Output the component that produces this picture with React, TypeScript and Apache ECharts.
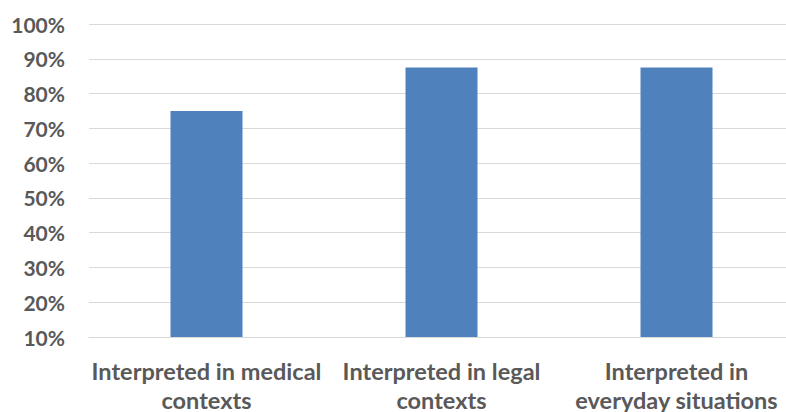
import React, { useEffect, useRef } from "react";
import * as echarts from "echarts";

const categories = [
  "Interpreted in medical\ncontexts",
  "Interpreted in legal\ncontexts",
  "Interpreted in\neveryday situations",
];
const values = [75, 87.5, 87.5];
const yMin = 10;
const yMax = 100;
const yStep = 10;

export default function App() {
  const ref = useRef<HTMLDivElement>(null);
  useEffect(() => {
    if (!ref.current) return;
    const chart = echarts.init(ref.current, null, { renderer: "svg" });
    const font = "Lato, 'Open Sans', sans-serif";
    chart.setOption({
      animation: false,
      backgroundColor: "#ffffff",
      grid: {
        left: 89,
        width: 705,
        top: 24,
        bottom: 75,
        containLabel: false,
        outerBoundsMode: "none",
      },
      xAxis: {
        type: "category",
        data: categories,
        axisLine: { show: true, lineStyle: { color: "#d9d9d9", width: 1 } },
        axisTick: { show: false },
        axisLabel: {
          color: "#595959",
          fontFamily: font,
          fontSize: 23.5,
          fontWeight: "bold",
          lineHeight: 29,
          margin: 19,
          interval: 0,
        },
      },
      yAxis: {
        type: "value",
        min: yMin,
        max: yMax,
        interval: yStep,
        axisLine: { show: false },
        axisTick: { show: false },
        splitLine: { lineStyle: { color: "#d9d9d9", width: 1 } },
        axisLabel: {
          formatter: "{value}%",
          color: "#595959",
          fontFamily: font,
          fontSize: 21,
          fontWeight: "bold",
          margin: 24,
        },
      },
      series: [
        {
          type: "bar",
          data: values,
          barWidth: 72,
          itemStyle: { color: "#4f81bd" },
        },
      ],
    });
    return () => chart.dispose();
  }, []);
  return (
    <div
      ref={ref}
      style={{ position: "absolute", left: 0, top: 0, width: 786, height: 412 }}
    />
  );
}
